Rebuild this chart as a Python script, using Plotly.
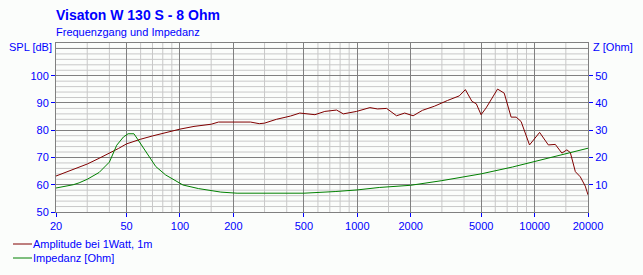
import plotly.graph_objects as go
import numpy as np

# ---- data ----
spl_freq = [20, 22, 25, 30, 35, 40, 45, 50, 55, 60, 70, 80, 90, 100, 120, 150, 165, 200, 250, 280,
            300, 350, 420, 474, 577, 656, 764, 834, 991, 1178, 1300, 1463, 1665, 1850, 2065, 2330,
            2720, 3224, 3760, 4070, 4430, 4690, 4990, 5330, 6180, 6740, 7370, 7870, 8390, 9360,
            10670, 11950, 13080, 14250, 15200, 15900, 16970, 18100, 19300, 20000]
spl_db = [63.2, 64.2, 65.4, 67.6, 69.7, 71.5, 73.3, 75.0, 76.0, 76.7, 77.9, 78.9, 79.7, 80.4, 81.4,
          82.2, 83.0, 83.0, 83.0, 82.4, 82.6, 84.0, 85.2, 86.3, 85.7, 86.9, 87.4, 86.0, 86.9, 88.3,
          87.8, 88.0, 85.3, 86.3, 85.3, 87.3, 88.8, 90.9, 92.6, 94.9, 90.6, 89.7, 85.7, 88.2, 95.1,
          93.6, 84.8, 84.8, 83.2, 74.6, 79.2, 74.6, 74.8, 71.6, 72.8, 71.8, 64.8, 62.9, 59.5, 56.3]

imp_freq = [20, 25, 27, 30, 35, 40, 44, 48, 51, 55, 58, 64, 73, 83, 104, 127, 170, 210, 500, 750,
            1000, 1330, 2000, 3000, 5000, 7500, 10000, 15000, 20000]
imp_ohm = [8.8, 10.0, 10.7, 12.0, 14.5, 18.3, 24.5, 27.5, 28.7, 28.7, 26.5, 22.2, 16.7, 13.6, 9.9,
           8.6, 7.3, 6.9, 6.9, 7.5, 8.1, 9.0, 9.8, 11.5, 14.0, 16.5, 18.5, 21.5, 23.4]

x_major = [20, 50, 100, 200, 500, 1000, 2000, 5000, 10000, 20000]
x_minor = [30, 40, 60, 70, 80, 90, 150, 300, 400, 600, 700, 800, 900, 1500, 3000, 4000,
           6000, 7000, 8000, 9000, 15000]
spl_ticks = [50, 60, 70, 80, 90, 100]
spl_minor = [v for v in range(52, 112, 2) if v % 10 != 0]
spl_major_extra = [110]
z_ticks = [10, 20, 30, 40, 50]

title = "Visaton W 130 S - 8 Ohm"
subtitle = "Frequenzgang und Impedanz"
name_spl = "Amplitude bei 1Watt, 1m"
name_imp = "Impedanz [Ohm]"

BLUE = "#0000FF"
DARK = "#808080"
LIGHT = "#C8C8C8"
BG = "#FBFDFB"
FONT = "Liberation Sans"

W, H = 643, 275
L, R, T, B = 56, 55, 43, 63
PW, PH = W - L - R, H - T - B


def px(x):
    return (x - L) / PW


def py(y):
    return (T + PH - y) / PH


fig = go.Figure()
fig.add_trace(go.Scatter(x=spl_freq, y=spl_db, mode="lines", name=name_spl,
                         line=dict(color="#800000", width=1), yaxis="y"))
fig.add_trace(go.Scatter(x=imp_freq, y=imp_ohm, mode="lines", name=name_imp,
                         line=dict(color="#008000", width=1), yaxis="y2"))

tickfont = dict(family=FONT, size=11, color=BLUE)

fig.update_layout(
    width=W, height=H,
    margin=dict(l=L, r=R, t=T, b=B, pad=0),
    paper_bgcolor=BG, plot_bgcolor=BG,
    showlegend=False,
    xaxis=dict(type="log", range=[np.log10(20), np.log10(20000)],
               tickmode="array", tickvals=x_major, ticktext=[str(v) for v in x_major],
               ticks="outside", ticklen=4, tickcolor=BLUE, tickfont=tickfont,
               showgrid=True, gridcolor=DARK, gridwidth=1,
               showline=True, linecolor=DARK, linewidth=1, mirror=True,
               zeroline=False, layer="above traces"),
    yaxis=dict(range=[50, 112], tickmode="array", tickvals=spl_ticks,
               ticks="outside", ticklen=4, tickcolor=BLUE, tickfont=tickfont,
               showgrid=True, gridcolor=DARK, gridwidth=1,
               showline=True, linecolor=DARK, linewidth=1, mirror=True,
               zeroline=False),
    yaxis2=dict(range=[0, 62], overlaying="y", side="right", tickmode="array",
                tickvals=z_ticks, ticks="outside", ticklen=4, tickcolor=BLUE,
                tickfont=tickfont, showgrid=False, showline=True, linecolor=DARK,
                zeroline=False),
)

# minor grid lines (below the major grid)
for f in x_minor:
    fig.add_shape(type="line", xref="x", yref="paper", x0=f, x1=f, y0=0, y1=1,
                  line=dict(color=LIGHT, width=1), layer="below")
for v in spl_minor:
    fig.add_shape(type="line", xref="paper", yref="y", x0=0, x1=1, y0=v, y1=v,
                  line=dict(color=LIGHT, width=1), layer="below")
for v in spl_major_extra:
    fig.add_shape(type="line", xref="paper", yref="y", x0=0, x1=1, y0=v, y1=v,
                  line=dict(color=DARK, width=1), layer="below")

ann = [
    dict(text="<b>" + title + "</b>", x=px(55), y=py(15), xanchor="left",
         font=dict(family=FONT, size=14, color=BLUE)),
    dict(text=subtitle, x=px(55), y=py(32), xanchor="left",
         font=dict(family=FONT, size=11, color=BLUE)),
    dict(text="SPL [dB]", x=px(53), y=py(47), xanchor="right",
         font=dict(family=FONT, size=11, color=BLUE)),
    dict(text="Z [Ohm]", x=px(592), y=py(47), xanchor="left",
         font=dict(family=FONT, size=11, color=BLUE)),
    dict(text=name_spl, x=px(32), y=py(244), xanchor="left",
         font=dict(family=FONT, size=11, color=BLUE)),
    dict(text=name_imp, x=px(32), y=py(258), xanchor="left",
         font=dict(family=FONT, size=11, color=BLUE)),
]
for a in ann:
    fig.add_annotation(xref="paper", yref="paper", yanchor="middle", showarrow=False,
                       borderpad=0, **a)

for yy, col in [(244, "#800000"), (258, "#008000")]:
    fig.add_shape(type="line", xref="paper", yref="paper", x0=px(13), x1=px(32),
                  y0=py(yy), y1=py(yy), line=dict(color=col, width=1))

fig.write_html("out.html")
